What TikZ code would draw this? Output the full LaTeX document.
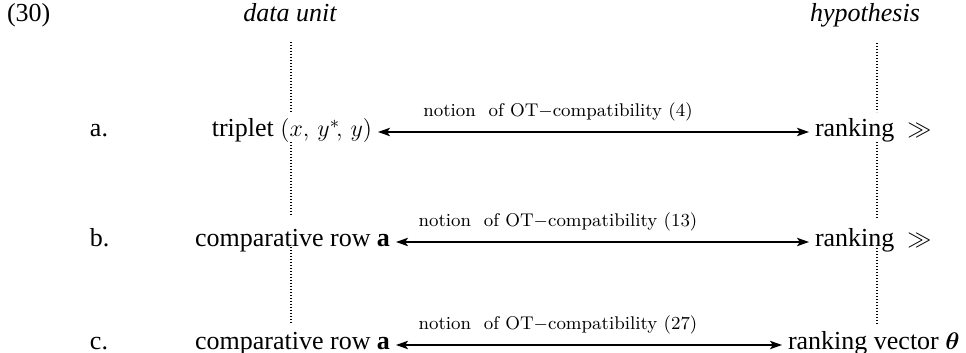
\documentclass[tikz,border=0pt]{standalone}
\usepackage{amsmath}
\usepackage{bm}
\usepackage{fontspec}
\newfontfamily\tnr{Liberation Serif}
\usetikzlibrary{arrows.meta}
\tikzset{
  txt/.style={inner sep=0pt, outer sep=0pt, font=\tnr\fontsize{13}{15}\selectfont},
  lbl/.style={inner sep=0pt, outer sep=0pt, font=\fontsize{9.2}{10}\selectfont},
  dblarrow/.style={line width=0.75pt, {Stealth[length=6pt,width=4.2pt,inset=1.4pt]}-{Stealth[length=6pt,width=4.2pt,inset=1.4pt]}},
  dotline/.style={line width=0.6pt, dash pattern=on 0.6pt off 0.9pt}
}
\begin{document}
\begin{tikzpicture}[x=0.5pt,y=-0.5pt]
\path[use as bounding box] (0,0) rectangle (966,353);
% headers
\node[txt, anchor=base west] (n30) at (7,22) {(30)};
\node[txt, anchor=base] (du) at (290,22) {\itshape data unit};
\node[txt, anchor=base] (hy) at (865,22) {\itshape hypothesis};
% row letters
\node[txt, anchor=base west] (la) at (90,137) {a.};
\node[txt, anchor=base west] (lb) at (90,247) {b.};
\node[txt, anchor=base west] (lc) at (90,350) {c.};
% left column
\node[txt, anchor=base east] (ta) at (372,137) {triplet $(x,\,y^{*}\!,\,y)$};
\node[txt, anchor=base east] (tb) at (390,247) {comparative row {\bfseries a}};
\node[txt, anchor=base east] (tc) at (390,350) {comparative row {\bfseries a}};
% right column
\node[txt, anchor=base west] (ra) at (815,137) {ranking\ \ $\gg$};
\node[txt, anchor=base west] (rb) at (815,247) {ranking\ \ $\gg$};
\node[txt, anchor=base west] (rc) at (788,350) {ranking vector $\bm{\theta}$};
% arrows
\draw[dblarrow] ([shift={(3pt,2.5pt)}]ta.base east) -- ([shift={(-3pt,2.5pt)}]ra.base west);
\draw[dblarrow] ([shift={(3pt,2.5pt)}]tb.base east) -- ([shift={(-3pt,2.5pt)}]rb.base west);
\draw[dblarrow] ([shift={(3pt,2.5pt)}]tc.base east) -- ([shift={(-3pt,2.5pt)}]rc.base west);
% arrow labels
\node[lbl, anchor=base] (pa) at (558,117) {notion\ \ of OT$-$compatibility (4)};
\node[lbl, anchor=base] (pb) at (558,227) {notion\ \ of OT$-$compatibility (13)};
\node[lbl, anchor=base] (pc) at (558,329) {notion\ \ of OT$-$compatibility (27)};
% dotted guide lines
\coordinate (l1) at (291,42);  \coordinate (l2) at (291,112);
\coordinate (l3) at (291,142); \coordinate (l4) at (291,216);
\coordinate (l5) at (291,247); \coordinate (l6) at (291,323);
\coordinate (r1) at (877,43);  \coordinate (r2) at (877,112);
\coordinate (r3) at (877,142); \coordinate (r4) at (877,218);
\coordinate (r5) at (877,248); \coordinate (r6) at (877,325);
\draw[dotline] (l1) -- (l2);
\draw[dotline] (l3) -- (l4);
\draw[dotline] (l5) -- (l6);
\draw[dotline] (r1) -- (r2);
\draw[dotline] (r3) -- (r4);
\draw[dotline] (r5) -- (r6);
\end{tikzpicture}
\end{document}
